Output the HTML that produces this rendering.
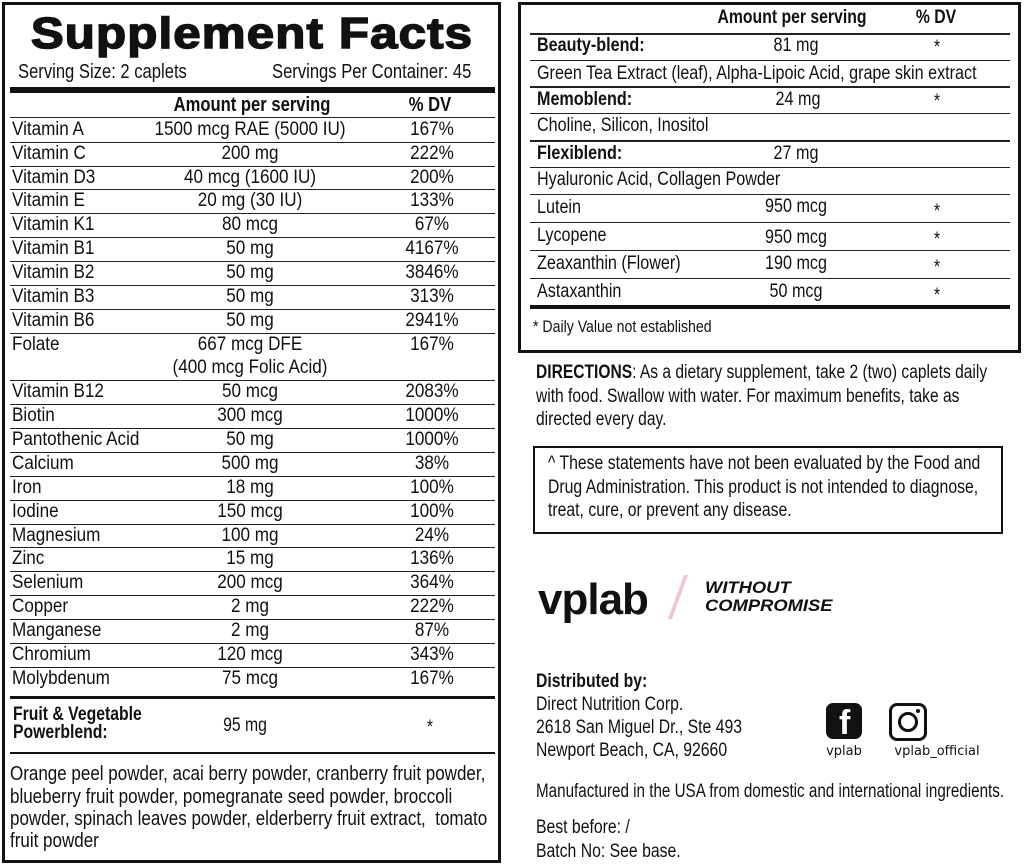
<!DOCTYPE html>
<html><head><meta charset="utf-8"><style>
body{margin:0;width:1024px;height:867px;background:#fff;position:relative;overflow:hidden;font-family:"Liberation Sans",sans-serif;color:#111}
.l,.c{position:absolute;white-space:nowrap;line-height:20px;font-size:19px}
.l{transform-origin:0 50%;transform:scaleX(.83)}
.c{transform:translateX(-50%) scaleX(.83)}
.r .l{transform:scaleX(.9)}
.r .c{transform:translateX(-50%) scaleX(.9)}
.q .l{transform:scaleX(.85)}
.q .c{transform:translateX(-50%) scaleX(.85)}
.b{font-weight:bold}
.hl{position:absolute;height:1px;background:#222}
.box{position:absolute;border:3px solid #111}
</style></head><body>
<div class="box" style="left:2px;top:2px;width:493px;height:855px"></div>
<div class="c b" style="left:252px;top:10px;font-size:44px;line-height:48px;font-weight:900;transform:translateX(-50%) scaleX(1.12);letter-spacing:1px;-webkit-text-stroke:1.5px #111">Supplement Facts</div>
<div class="l" style="left:18px;top:62px;font-size:20px">Serving Size: 2 caplets</div>
<div class="l" style="left:272px;top:62px;font-size:20px">Servings Per Container: 45</div>
<div class="hl" style="left:10px;width:485px;top:87px;height:6px;background:#111"></div>
<div class="c b" style="left:252px;top:95px;font-size:20px">Amount per serving</div>
<div class="c b" style="left:430px;top:95px;font-size:20px">% DV</div>
<div class="hl" style="left:10px;width:485px;top:117px"></div>
<div class="r">
<div class="l" style="left:12px;top:120px">Vitamin A</div><div class="c" style="left:250px;top:120px">1500 mcg RAE (5000 IU)</div><div class="c" style="left:432px;top:120px">167%</div><div class="hl" style="left:10px;width:485px;top:142px"></div>
<div class="l" style="left:12px;top:144px">Vitamin C</div><div class="c" style="left:250px;top:144px">200 mg</div><div class="c" style="left:432px;top:144px">222%</div><div class="hl" style="left:10px;width:485px;top:166px"></div>
<div class="l" style="left:12px;top:168px">Vitamin D3</div><div class="c" style="left:250px;top:168px">40 mcg (1600 IU)</div><div class="c" style="left:432px;top:168px">200%</div><div class="hl" style="left:10px;width:485px;top:189px"></div>
<div class="l" style="left:12px;top:191px">Vitamin E</div><div class="c" style="left:250px;top:191px">20 mg (30 IU)</div><div class="c" style="left:432px;top:191px">133%</div><div class="hl" style="left:10px;width:485px;top:213px"></div>
<div class="l" style="left:12px;top:215px">Vitamin K1</div><div class="c" style="left:250px;top:215px">80 mcg</div><div class="c" style="left:432px;top:215px">67%</div><div class="hl" style="left:10px;width:485px;top:237px"></div>
<div class="l" style="left:12px;top:239px">Vitamin B1</div><div class="c" style="left:250px;top:239px">50 mg</div><div class="c" style="left:432px;top:239px">4167%</div><div class="hl" style="left:10px;width:485px;top:261px"></div>
<div class="l" style="left:12px;top:263px">Vitamin B2</div><div class="c" style="left:250px;top:263px">50 mg</div><div class="c" style="left:432px;top:263px">3846%</div><div class="hl" style="left:10px;width:485px;top:285px"></div>
<div class="l" style="left:12px;top:287px">Vitamin B3</div><div class="c" style="left:250px;top:287px">50 mg</div><div class="c" style="left:432px;top:287px">313%</div><div class="hl" style="left:10px;width:485px;top:309px"></div>
<div class="l" style="left:12px;top:311px">Vitamin B6</div><div class="c" style="left:250px;top:311px">50 mg</div><div class="c" style="left:432px;top:311px">2941%</div><div class="hl" style="left:10px;width:485px;top:333px"></div>
<div class="l" style="left:12px;top:335px">Folate</div><div class="c" style="left:250px;top:335px">667 mcg DFE</div><div class="c" style="left:432px;top:335px">167%</div>
<div class="c" style="left:250px;top:358px">(400 mcg Folic Acid)</div><div class="hl" style="left:10px;width:485px;top:380px"></div>
<div class="l" style="left:12px;top:382px">Vitamin B12</div><div class="c" style="left:250px;top:382px">50 mcg</div><div class="c" style="left:432px;top:382px">2083%</div><div class="hl" style="left:10px;width:485px;top:404px"></div>
<div class="l" style="left:12px;top:406px">Biotin</div><div class="c" style="left:250px;top:406px">300 mcg</div><div class="c" style="left:432px;top:406px">1000%</div><div class="hl" style="left:10px;width:485px;top:428px"></div>
<div class="l" style="left:12px;top:430px">Pantothenic Acid</div><div class="c" style="left:250px;top:430px">50 mg</div><div class="c" style="left:432px;top:430px">1000%</div><div class="hl" style="left:10px;width:485px;top:452px"></div>
<div class="l" style="left:12px;top:454px">Calcium</div><div class="c" style="left:250px;top:454px">500 mg</div><div class="c" style="left:432px;top:454px">38%</div><div class="hl" style="left:10px;width:485px;top:476px"></div>
<div class="l" style="left:12px;top:478px">Iron</div><div class="c" style="left:250px;top:478px">18 mg</div><div class="c" style="left:432px;top:478px">100%</div><div class="hl" style="left:10px;width:485px;top:500px"></div>
<div class="l" style="left:12px;top:502px">Iodine</div><div class="c" style="left:250px;top:502px">150 mcg</div><div class="c" style="left:432px;top:502px">100%</div><div class="hl" style="left:10px;width:485px;top:524px"></div>
<div class="l" style="left:12px;top:526px">Magnesium</div><div class="c" style="left:250px;top:526px">100 mg</div><div class="c" style="left:432px;top:526px">24%</div><div class="hl" style="left:10px;width:485px;top:547px"></div>
<div class="l" style="left:12px;top:549px">Zinc</div><div class="c" style="left:250px;top:549px">15 mg</div><div class="c" style="left:432px;top:549px">136%</div><div class="hl" style="left:10px;width:485px;top:571px"></div>
<div class="l" style="left:12px;top:573px">Selenium</div><div class="c" style="left:250px;top:573px">200 mcg</div><div class="c" style="left:432px;top:573px">364%</div><div class="hl" style="left:10px;width:485px;top:595px"></div>
<div class="l" style="left:12px;top:597px">Copper</div><div class="c" style="left:250px;top:597px">2 mg</div><div class="c" style="left:432px;top:597px">222%</div><div class="hl" style="left:10px;width:485px;top:619px"></div>
<div class="l" style="left:12px;top:621px">Manganese</div><div class="c" style="left:250px;top:621px">2 mg</div><div class="c" style="left:432px;top:621px">87%</div><div class="hl" style="left:10px;width:485px;top:643px"></div>
<div class="l" style="left:12px;top:645px">Chromium</div><div class="c" style="left:250px;top:645px">120 mcg</div><div class="c" style="left:432px;top:645px">343%</div><div class="hl" style="left:10px;width:485px;top:667px"></div>
<div class="l" style="left:12px;top:669px">Molybdenum</div><div class="c" style="left:250px;top:669px">75 mcg</div><div class="c" style="left:432px;top:669px">167%</div>
</div>
<div class="hl" style="left:10px;width:485px;top:696px;height:3px;background:#111"></div>
<div class="l b" style="left:13px;top:706px;line-height:18px">Fruit &amp; Vegetable</div>
<div class="l b" style="left:13px;top:724px;line-height:18px">Powerblend:</div>
<div class="c" style="left:245px;top:716px">95 mg</div><div class="c" style="left:430px;top:718px">*</div>
<div class="hl" style="left:10px;width:485px;top:752px;height:2px;background:#111"></div>
<div class="q">
<div class="l" style="left:10px;top:764px;font-size:20px">Orange peel powder, acai berry powder, cranberry fruit powder,</div>
<div class="l" style="left:10px;top:787px;font-size:20px">blueberry fruit powder, pomegranate seed powder, broccoli</div>
<div class="l" style="left:10px;top:809px;font-size:20px">powder, spinach leaves powder, elderberry fruit extract,&nbsp; tomato</div>
<div class="l" style="left:10px;top:831px;font-size:20px">fruit powder</div>
</div>

<div class="box" style="left:518px;top:2px;width:497px;height:345px"></div>
<div class="c b" style="left:792px;top:8px">Amount per serving</div>
<div class="c b" style="left:936px;top:8px">% DV</div>
<div class="hl" style="left:530px;width:480px;top:33px;height:2px"></div>
<div class="q">
<div class="l b" style="left:537px;top:36px">Beauty-blend:</div><div class="c" style="left:796px;top:36px">81 mg</div><div class="c" style="left:937px;top:38px">*</div>
<div class="l" style="left:537px;top:64px">Green Tea Extract (leaf), Alpha-Lipoic Acid, grape skin extract</div>
<div class="l b" style="left:537px;top:90px">Memoblend:</div><div class="c" style="left:798px;top:90px">24 mg</div><div class="c" style="left:937px;top:92px">*</div>
<div class="l" style="left:537px;top:116px">Choline, Silicon, Inositol</div>
<div class="l b" style="left:537px;top:144px">Flexiblend:</div><div class="c" style="left:796px;top:144px">27 mg</div>
<div class="l" style="left:537px;top:170px">Hyaluronic Acid, Collagen Powder</div>
<div class="l" style="left:537px;top:198px">Lutein</div><div class="c" style="left:796px;top:197px">950 mcg</div><div class="c" style="left:937px;top:202px">*</div>
<div class="l" style="left:537px;top:226px">Lycopene</div><div class="c" style="left:796px;top:228px">950 mcg</div><div class="c" style="left:937px;top:230px">*</div>
<div class="l" style="left:537px;top:254px">Zeaxanthin (Flower)</div><div class="c" style="left:796px;top:254px">190 mcg</div><div class="c" style="left:937px;top:258px">*</div>
<div class="l" style="left:537px;top:282px">Astaxanthin</div><div class="c" style="left:796px;top:282px">50 mcg</div><div class="c" style="left:937px;top:286px">*</div>
</div>
<div class="hl" style="left:530px;width:480px;top:60px"></div>
<div class="hl" style="left:530px;width:480px;top:86px;height:2px"></div>
<div class="hl" style="left:530px;width:480px;top:113px"></div>
<div class="hl" style="left:530px;width:480px;top:140px;height:2px"></div>
<div class="hl" style="left:530px;width:480px;top:167px"></div>
<div class="hl" style="left:530px;width:480px;top:194px"></div>
<div class="hl" style="left:530px;width:480px;top:222px"></div>
<div class="hl" style="left:530px;width:480px;top:250px"></div>
<div class="hl" style="left:530px;width:480px;top:278px"></div>
<div class="hl" style="left:530px;width:480px;top:305px;height:4px;background:#111"></div>
<div class="l" style="left:533px;top:317px;font-size:17px">* Daily Value not established</div>

<div class="l" style="left:536px;top:363px;transform:scaleX(.82)"><b>DIRECTIONS</b>: As a dietary supplement, take 2 (two) caplets daily</div>
<div class="l" style="left:536px;top:387px;transform:scaleX(.82)">with food. Swallow with water. For maximum benefits, take as</div>
<div class="l" style="left:536px;top:410px;transform:scaleX(.82)">directed every day.</div>
<div class="box" style="left:533px;top:446px;width:466px;height:84px;border-width:2px"></div>
<div class="l" style="left:548px;top:454px">^ These statements have not been evaluated by the Food and</div>
<div class="l" style="left:548px;top:478px">Drug Administration. This product is not intended to diagnose,</div>
<div class="l" style="left:548px;top:501px">treat, cure, or prevent any disease.</div>

<div class="l b" style="left:538px;top:575px;font-size:44px;line-height:50px;letter-spacing:-1px;transform:scaleX(1)">vplab</div>
<div style="position:absolute;left:676px;top:575px;width:4px;height:44px;background:#f1c6d3;transform:skewX(-20deg)"></div>
<div class="l b" style="left:705px;top:579px;font-size:17px;line-height:18px;font-style:italic;font-weight:900;transform:scaleX(1.08)">WITHOUT</div>
<div class="l b" style="left:705px;top:597px;font-size:17px;line-height:18px;font-style:italic;font-weight:900;transform:scaleX(1.08)">COMPROMISE</div>

<div class="l b" style="left:536px;top:672px">Distributed by:</div>
<div class="l" style="left:536px;top:695px">Direct Nutrition Corp.</div>
<div class="l" style="left:536px;top:718px">2618 San Miguel Dr., Ste 493</div>
<div class="l" style="left:536px;top:741px">Newport Beach, CA, 92660</div>
<div style="position:absolute;left:826px;top:703px;width:36px;height:36px;background:#111;border-radius:7px;overflow:hidden"><span style="position:absolute;left:13px;top:2px;color:#fff;font:bold 34px 'Liberation Sans',sans-serif;line-height:36px">f</span></div>
<div style="position:absolute;left:889px;top:703px;width:32px;height:32px;border:3px solid #111;border-radius:8px"><div style="position:absolute;left:6px;top:6px;width:14px;height:14px;border:3px solid #111;border-radius:50%"></div><div style="position:absolute;left:24px;top:3px;width:4px;height:4px;background:#111;border-radius:50%"></div></div>
<div class="c" style="left:844px;top:742px;font-family:'DejaVu Sans',sans-serif;font-size:13px;transform:translateX(-50%)">vplab</div>
<div class="c" style="left:937px;top:742px;font-family:'DejaVu Sans',sans-serif;font-size:13px;transform:translateX(-50%)">vplab_official</div>
<div class="l" style="left:536px;top:782px;transform:scaleX(.8)">Manufactured in the USA from domestic and international ingredients.</div>
<div class="l" style="left:536px;top:818px">Best before: /</div>
<div class="l" style="left:536px;top:842px">Batch No: See base.</div>
</body></html>
